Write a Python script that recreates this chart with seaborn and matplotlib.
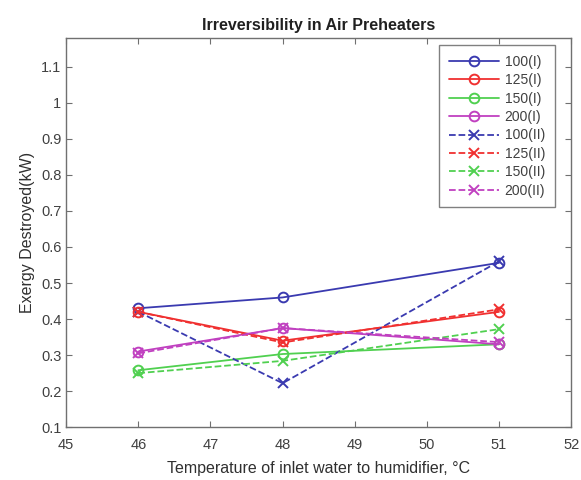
import matplotlib
matplotlib.use("Agg")
import matplotlib.pyplot as plt
import seaborn as sns
import pandas as pd

temps = [46, 48, 51]
labels = ["100(I)", "125(I)", "150(I)", "200(I)", "100(II)", "125(II)", "150(II)", "200(II)"]
v100_I = [0.43, 0.46, 0.556]
v125_I = [0.42, 0.34, 0.42]
v150_I = [0.258, 0.303, 0.33]
v200_I = [0.31, 0.375, 0.33]
v100_II = [0.42, 0.222, 0.56]
v125_II = [0.42, 0.335, 0.427]
v150_II = [0.25, 0.284, 0.372]
v200_II = [0.305, 0.375, 0.336]
series = [v100_I, v125_I, v150_I, v200_I, v100_II, v125_II, v150_II, v200_II]

colors = ["#3a3ab0", "#f03030", "#50d050", "#c040c0"] * 2

sns.set_style("white")
plt.rcParams['font.family'] = ['Liberation Sans', 'DejaVu Sans']

rows = []
for lab, vals in zip(labels, series):
    for t, v in zip(temps, vals):
        rows.append({"T": t, "E": v, "series": lab})
df = pd.DataFrame(rows)

fig = plt.figure(figsize=(5.81, 4.8), dpi=100)
ax = fig.add_axes([0.114, 0.110, 0.869, 0.811])

for i, lab in enumerate(labels):
    sub = df[df["series"] == lab]
    dashed = "(II)" in lab
    sns.lineplot(data=sub, x="T", y="E", ax=ax, color=colors[i],
                 linestyle="--" if dashed else "-",
                 marker="x" if dashed else "o",
                 markerfacecolor="none" if not dashed else colors[i],
                 markeredgecolor=colors[i], markersize=7, markeredgewidth=1.4,
                 linewidth=1.3, label=lab, estimator=None)

ax.set_xlim(45, 52)
ax.set_ylim(0.1, 1.18)
ax.set_xticks(range(45, 53))
ax.set_yticks([0.1, 0.2, 0.3, 0.4, 0.5, 0.6, 0.7, 0.8, 0.9, 1.0, 1.1])
ax.set_yticklabels(["0.1", "0.2", "0.3", "0.4", "0.5", "0.6", "0.7", "0.8", "0.9", "1", "1.1"])
for s in ax.spines.values():
    s.set_color("#707070")
    s.set_linewidth(1.0)
ax.tick_params(axis="both", direction="in", length=4, color="#707070",
               labelsize=10.5, labelcolor="#404040", top=True, right=True, left=True, bottom=True)
ax.tick_params(axis="x", pad=8)
ax.set_xlabel("Temperature of inlet water to humidifier, \u00b0C", fontsize=11.5, color="#303030", labelpad=6)
ax.set_ylabel("Exergy Destroyed(kW)", fontsize=11.5, color="#303030")
ax.set_title("Irreversibility in Air Preheaters", fontsize=11.5, fontweight="bold", color="#202020")

leg = ax.legend(loc="upper right", bbox_to_anchor=(0.968, 0.982), borderaxespad=0.0,
                fontsize=10, frameon=True, fancybox=False,
                edgecolor="#606060", handlelength=3.6, handletextpad=0.4, borderpad=0.7,
                labelspacing=0.32)
leg.get_frame().set_linewidth(1.0)
for t in leg.get_texts():
    t.set_color("#404040")

fig.savefig("out.png", dpi=100)
